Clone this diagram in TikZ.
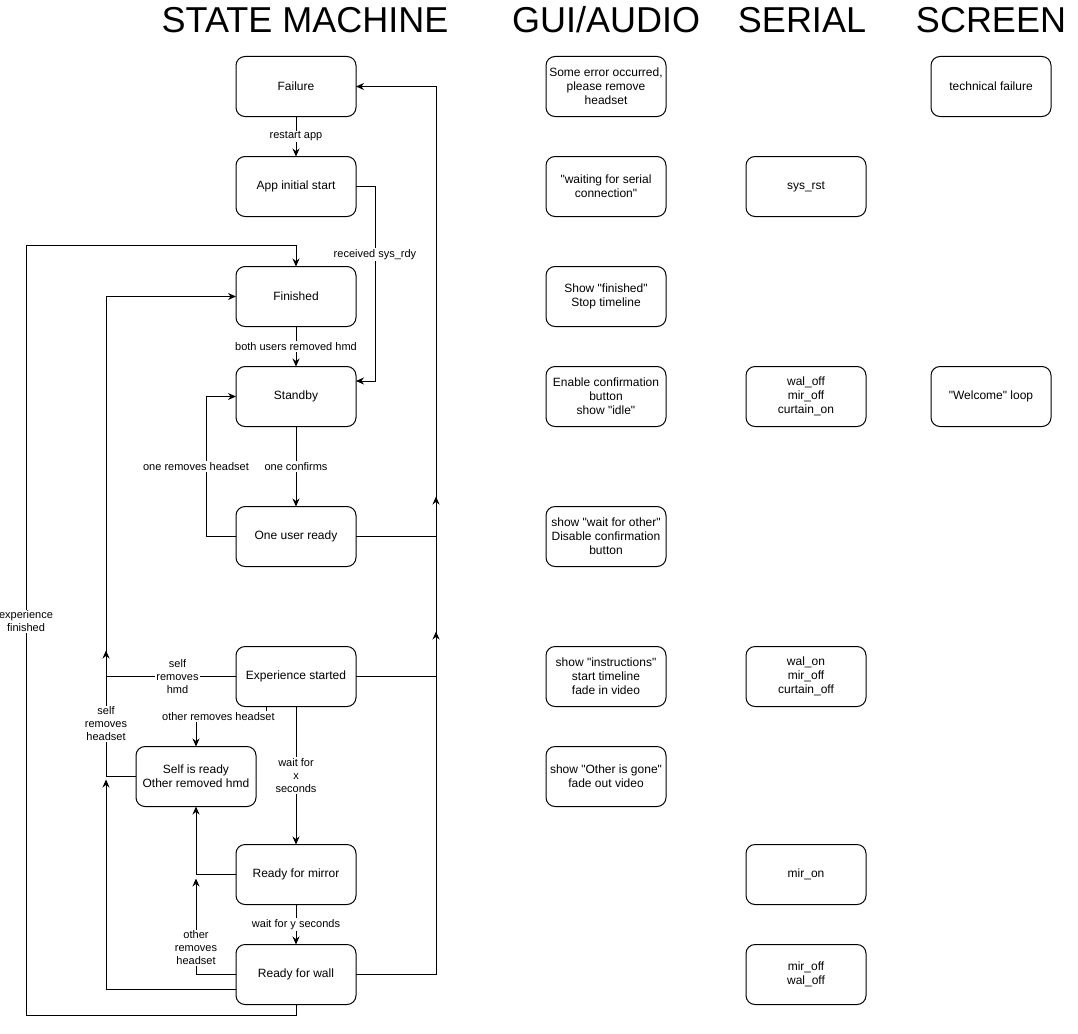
\documentclass[tikz,border=0pt]{standalone}
\usepackage{fontspec}
\setmainfont{Liberation Sans}[Ligatures=TeXOff]
\usetikzlibrary{positioning,arrows.meta}

\begin{document}
\begin{tikzpicture}[x=1pt,y=1pt,
	box/.style={draw,rounded corners=9pt,line width=1pt,outer sep=0pt,minimum width=120pt,minimum height=60pt,inner sep=1pt,align=center,font=\fontsize{12}{14}\selectfont},
	lbl/.style={fill=white,inner sep=1pt,align=center,font=\fontsize{11}{13}\selectfont},
	head/.style={font=\fontsize{36}{40}\selectfont,anchor=base},
	arr/.style={line width=1pt,-{Stealth[length=8pt,width=7pt]}}]
	\useasboundingbox (0,0) rectangle (1078,-1033);

	% state machine
	\node[box] (fail) at (296,-86.5) {Failure};
	\node[box] (app) [below=40pt of fail] {App initial start};
	\node[box] (fin) [below=50pt of app] {Finished};
	\node[box] (stby) [below=40pt of fin] {Standby};
	\node[box] (one) [below=80pt of stby] {One user ready};
	\node[box] (exp) [below=80pt of one] {Experience started};
	\node[box] (self) [below=40pt of exp, xshift=-100pt] {Self is ready\\Other removed hmd};
	\node[box] (mir) [below=138pt of exp] {Ready for mirror};
	\node[box] (wall) [below=40pt of mir] {Ready for wall};

	% gui/audio
	\node[box] (gfail) [right=190pt of fail] {Some error occurred,\\please remove\\headset};
	\node[box] (gapp) [right=190pt of app] {"waiting for serial\\connection"};
	\node[box] (gfin) [right=190pt of fin] {Show "finished"\\Stop timeline};
	\node[box] (gstby) [right=190pt of stby] {Enable confirmation\\button\\show "idle"};
	\node[box] (gone) [right=190pt of one] {show "wait for other"\\Disable confirmation\\button};
	\node[box] (gexp) [right=190pt of exp] {show "instructions"\\start timeline\\fade in video};
	\node[box] (gself) [right=290pt of self] {show "Other is gone"\\fade out video};

	% serial
	\node[box] (sapp) [right=80pt of gapp] {sys\_rst};
	\node[box] (sstby) [right=80pt of gstby] {wal\_off\\mir\_off\\curtain\_on};
	\node[box] (sexp) [right=80pt of gexp] {wal\_on\\mir\_off\\curtain\_off};
	\node[box] (smir) [right=390pt of mir] {mir\_on};
	\node[box] (swall) [right=390pt of wall] {mir\_off\\wal\_off};

	% screen
	\node[box] (cfail) [right=265pt of gfail] {technical failure};
	\node[box] (cstby) [right=65pt of sstby] {"Welcome" loop};

	% headers
	\node[head] (hsm) at ([xshift=9pt,yshift=24pt]fail.north) {STATE MACHINE};
	\node[head] (hgui) at (gfail.north |- hsm.base) {GUI/AUDIO};
	\node[head,xshift=-4pt] (hser) at (sapp.north |- hsm.base) {SERIAL};
	\node[head] (hscr) at (cfail.north |- hsm.base) {SCREEN};

	\coordinate (rail) at ([xshift=80pt]fail.east);
	\coordinate (j1) at ([yshift=10pt]one.north);
	\coordinate (j2) at ([yshift=15pt]exp.north);
	\coordinate (lrail) at ([xshift=-130pt]exp.west);
	\coordinate (j3) at ([yshift=26pt]exp.west);
	\coordinate (j4) at ([yshift=-3pt]self.west);
	\coordinate (j5) at ([yshift=-4pt]mir.west);
	\coordinate (far) at ([xshift=-210pt]wall.west);
	\coordinate (ftop) at ([yshift=21pt]fin.north);

	\draw[arr] (fail) -- node[lbl] {restart app} (app);
	\draw[arr] (app.east) -- ++(19,0) |- node[lbl,pos=0.175] {received sys\_rdy} ([yshift=15.5pt]stby.east);
	\draw[arr] (fin) -- node[lbl] {both users removed hmd} (stby);
	\draw[arr] (stby) -- node[lbl] {one confirms} (one);
	\draw[arr] (one.west) -- ++(-30,0) |- node[lbl,pos=0.25,xshift=-10pt] {one removes headset} (stby.west);
	\draw[arr] (one.east) -| (rail) -- (fail.east);
	\draw[arr] (exp.east) -| (rail |- j1);
	\draw[arr] (wall.east) -| (rail |- j2);
	\draw[arr] (exp.west) -- node[lbl,pos=0.45] {self\\removes\\hmd} (lrail |- exp.west) |- (fin.west);
	\draw[arr] (self.west) -| node[lbl,pos=0.71] {self\\removes\\headset} (lrail |- j3);
	\draw[arr] ([yshift=-15pt]wall.west) -| (lrail |- j4);
	\draw[arr] ([xshift=-30pt]exp.south) -- ++(0,-10) -| node[lbl,pos=0.34] {other removes headset} (self.north);
	\draw[arr] (exp) -- node[lbl] {wait for\\x\\seconds} (mir);
	\draw[arr] (mir.west) -| (self.south);
	\draw[arr] (mir) -- node[lbl] {wait for y seconds} (wall);
	\draw[arr] (wall.west) -| node[lbl,pos=0.64] {other\\removes\\headset} (self.south |- j5);
	\draw[arr] (wall.south) -- ++(0,-11) -| node[lbl,pos=0.756] {experience\\finished} (far |- ftop) -| (fin.north);
\end{tikzpicture}
\end{document}
